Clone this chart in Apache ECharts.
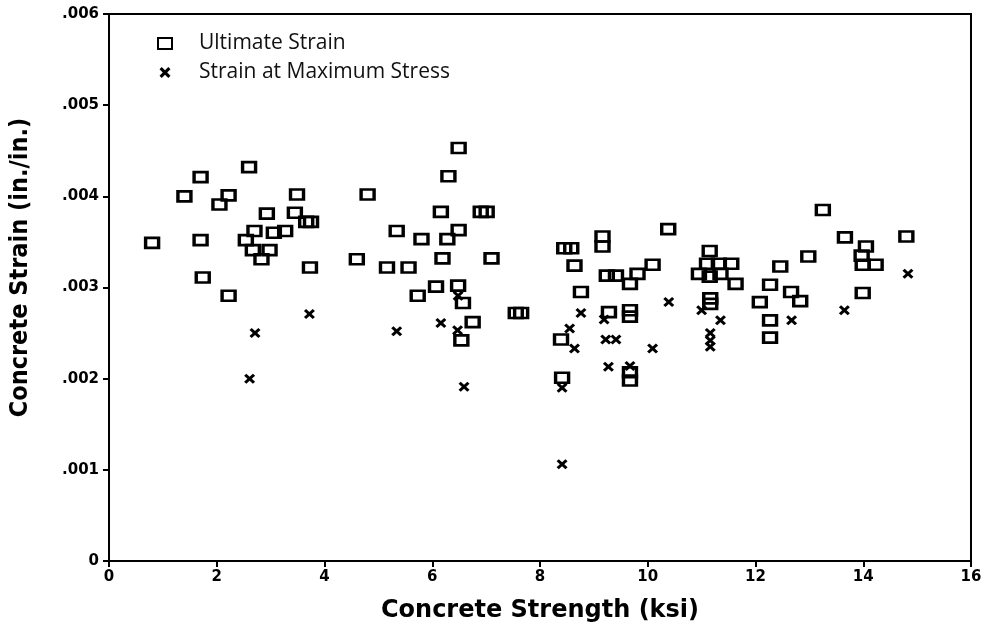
<!DOCTYPE html>
<html>
<head>
<meta charset="utf-8">
<script src="https://cdn.jsdelivr.net/npm/echarts@6/dist/echarts.min.js"></script>
<style>
  html, body { margin: 0; padding: 0; background: #fff; }
  #chart { width: 986px; height: 629px; }
</style>
</head>
<body>
<div id="chart"></div>
<script>
// ultimate strain (squares): strength in ksi, strain in in./in.
const ultX = [0.80, 1.40, 1.70, 1.70, 1.74, 2.05, 2.22, 2.22, 2.54, 2.60, 2.67, 2.70, 2.83, 2.93, 2.98, 3.06, 3.27, 3.45, 3.49, 3.66, 3.75, 3.73,
  4.60, 4.80, 5.16, 5.34, 5.56, 5.73, 5.80, 6.07, 6.16, 6.19, 6.28, 6.30, 6.48, 6.49, 6.49, 6.57, 6.54, 6.75, 6.90, 7.01, 7.10, 7.55, 7.65,
  8.39, 8.41, 8.45, 8.58, 8.64, 8.76, 9.16, 9.16, 9.24, 9.41, 9.28, 9.67, 9.67, 9.67, 9.67, 9.67, 9.81, 10.09, 10.38,
  10.95, 11.15, 11.10, 11.15, 11.32, 11.35, 11.55, 11.63, 11.16, 11.16, 12.08, 12.27, 12.46, 12.66, 12.83, 12.27, 12.27,
  12.98, 13.25, 13.66, 13.97, 14.05, 13.99, 14.23, 13.99, 14.80];
const ultY = [.00349, .00400, .00421, .00352, .00311, .00391, .00401, .00291, .00352, .00432, .00341, .00362, .00331, .00381, .00341, .00360, .00362, .00382, .00402, .00372, .00372, .00322,
  .00331, .00402, .00322, .00362, .00322, .00291, .00353, .00301, .00383, .00332, .00353, .00422, .00302, .00453, .00363, .00283, .00242, .00262, .00383, .00383, .00332, .00272, .00272,
  .00243, .00201, .00343, .00343, .00324, .00295, .00356, .00345, .00313, .00313, .00273, .00304, .00275, .00268, .00207, .00198, .00315, .00325, .00364,
  .00315, .00340, .00326, .00312, .00326, .00315, .00326, .00304, .00288, .00282, .00284, .00303, .00323, .00295, .00285, .00264, .00245,
  .00334, .00385, .00355, .00335, .00345, .00325, .00325, .00294, .00356];

// strain at maximum stress (x marks)
const peakX = [2.61, 2.71, 3.72, 5.34, 6.16, 6.47, 6.48, 6.59, 8.41, 8.41, 8.55, 8.64, 8.76, 9.19, 9.22, 9.41, 9.27, 9.67, 10.09, 10.39,
  11.00, 11.35, 11.16, 11.16, 11.16, 12.67, 13.65, 14.83];
const peakY = [.00200, .00250, .00271, .00252, .00261, .00253, .00291, .00191, .00190, .00106, .00255, .00233, .00272, .00265, .00243, .00243, .00213, .00214, .00233, .00284,
  .00275, .00264, .00250, .00242, .00235, .00264, .00275, .00315];

const xTicks = [0, 2, 4, 6, 8, 10, 12, 14, 16];
const yTicks = [0, .001, .002, .003, .004, .005, .006];

const zip = (a, b) => a.map((v, i) => [v, b[i]]);
const crossPath = 'path://M0,2L2,0L5,3L8,0L10,2L7,5L10,8L8,10L5,7L2,10L0,8L3,5Z';

const chart = echarts.init(document.getElementById('chart'));
chart.setOption({
  animation: false,
  backgroundColor: '#fff',
  grid: { left: 106, right: 15, top: 14, bottom: 68, show: true, borderColor: '#000', borderWidth: 2 },
  legend: {
    orient: 'vertical', left: 152, top: 28, itemGap: 8,
    itemWidth: 14, itemHeight: 11,
    textStyle: { fontFamily: 'Open Sans', fontSize: 21, color: '#111', padding: [0, 0, 0, 22] },
    data: ['Ultimate Strain', 'Strain at Maximum Stress']
  },
  xAxis: {
    type: 'value', min: xTicks[0], max: xTicks[xTicks.length - 1], interval: 2,
    name: 'Concrete Strength (ksi)', nameLocation: 'middle', nameGap: 38,
    nameTextStyle: { fontFamily: 'DejaVu Sans', fontWeight: 'bold', fontSize: 24, color: '#000' },
    axisLine: { lineStyle: { color: '#000', width: 2 } },
    axisTick: { length: 6, lineStyle: { color: '#000', width: 2 } },
    axisLabel: { margin: 9, fontFamily: 'DejaVu Sans', fontWeight: 'bold', fontSize: 15, color: '#000' },
    splitLine: { show: false }
  },
  yAxis: {
    type: 'value', min: yTicks[0], max: yTicks[yTicks.length - 1], interval: 0.001,
    name: 'Concrete Strain (in./in.)', nameLocation: 'middle', nameGap: 76,
    nameTextStyle: { fontFamily: 'DejaVu Sans Condensed', fontWeight: 'bold', fontSize: 25, color: '#000', padding: [0, 0, 0, 40] },
    axisLine: { lineStyle: { color: '#000', width: 2 } },
    axisTick: { length: 6, lineStyle: { color: '#000', width: 2 } },
    axisLabel: {
      margin: 10, fontFamily: 'DejaVu Sans', fontWeight: 'bold', fontSize: 15, color: '#000',
      formatter: v => v === 0 ? '0' : v.toFixed(3).replace(/^0/, '')
    },
    splitLine: { show: false }
  },
  series: [
    {
      name: 'Strain at Maximum Stress', type: 'scatter',
      symbol: crossPath, symbolSize: [11, 10],
      itemStyle: { color: '#000', opacity: 1 },
      data: zip(peakX, peakY)
    },
    {
      name: 'Ultimate Strain', type: 'scatter',
      symbol: 'rect', symbolSize: [13, 10],
      itemStyle: { color: 'rgba(255,255,255,0)', borderColor: '#000', borderWidth: 3, opacity: 1 },
      data: zip(ultX, ultY)
    }
  ]
});
</script>
</body>
</html>
